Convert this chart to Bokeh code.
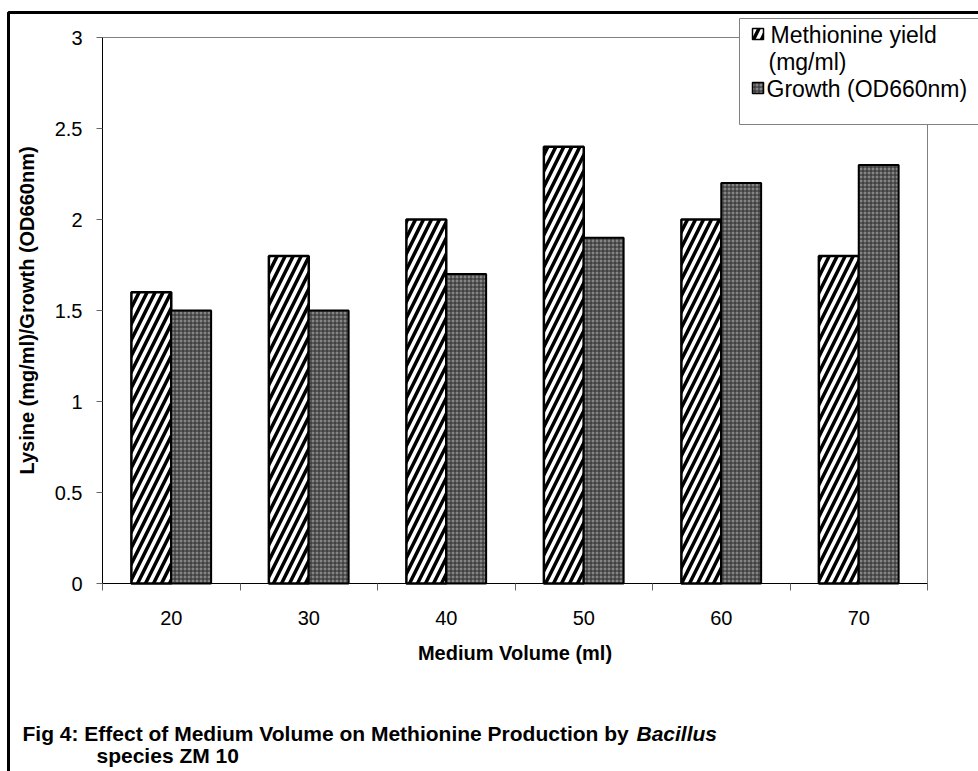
from bokeh.plotting import figure
from bokeh.models import Range1d, FixedTicker, Label, BoxAnnotation, ColumnDataSource
from bokeh.embed import file_html
from bokeh.resources import INLINE

# ---- data ----
volumes = ["20", "30", "40", "50", "60", "70"]
methionine_yield = [1.6, 1.8, 2.0, 2.4, 2.0, 1.8]
growth_od660 = [1.5, 1.5, 1.7, 1.9, 2.2, 2.3]
y_ticks = [0, 0.5, 1, 1.5, 2, 2.5, 3]
y_tick_labels = ["0", "0.5", "1", "1.5", "2", "2.5", "3"]
legend_lines = ["Methionine yield", "(mg/ml)", "Growth (OD660nm)"]
x_title = "Medium Volume (ml)"
y_title = "Lysine (mg/ml)/Growth (OD660nm)"
caption_1 = "Fig 4:  Effect of Medium Volume on Methionine Production by"
caption_italic = "Bacillus"
caption_2 = "species ZM 10"

FONT = "Liberation Sans"
W, H = 978, 771
# pixel box of the data area inside the canvas
PL, PR, PT, PB = 102, 927, 37, 583

n = len(volumes)
y_max = 3
kx = (PR - PL) / n
ky = (PB - PT) / y_max
x_range = Range1d(-PL / kx, n + (W - PR) / kx)
y_range = Range1d(-(H - PB) / ky, y_max + PT / ky)

centers = [i + 0.5 for i in range(n)]
BW = 0.29

p = figure(width=W, height=H, output_backend="svg", toolbar_location=None,
           x_range=x_range, y_range=y_range,
           min_border=0, min_border_left=0, min_border_right=0,
           min_border_top=0, min_border_bottom=0)
p.outline_line_color = None
p.xgrid.visible = False
p.ygrid.visible = False
p.background_fill_color = "white"
p.border_fill_color = "white"

def sx(px):  # page x -> screen units (from frame left)
    return px

def sy(py):  # page y -> screen units (from frame bottom, upward)
    return H - py

def sbox(l, r, t, b, **kw):
    return BoxAnnotation(left=sx(l), right=sx(r), top=sy(t), bottom=sy(b),
                         left_units="screen", right_units="screen",
                         top_units="screen", bottom_units="screen", **kw)

# outer border (only top and left edges are visible)
p.add_layout(sbox(8, W + 100, 12, H + 100, fill_color=None, fill_alpha=0,
                  line_color="black", line_alpha=1.0, line_width=3, level="underlay"))

# plot-area frame (top/right grey lines; left/bottom hidden under axes)
p.add_layout(BoxAnnotation(left=0, right=n, bottom=0, top=y_max,
                           fill_color=None, fill_alpha=0,
                           line_color="#808080", line_alpha=1.0, line_width=1, level="underlay"))

src = ColumnDataSource(dict(
    xm=[c - BW / 2 for c in centers],
    xg=[c + BW / 2 for c in centers],
    m=methionine_yield, g=growth_od660))

p.vbar(x="xm", top="m", width=BW, source=src, fill_color="white",
       line_color="black", line_width=2.5,
       hatch_pattern="/", hatch_color="black", hatch_scale=16, hatch_weight=3.5)
p.vbar(x="xg", top="g", width=BW, source=src, fill_color="#858585",
       line_color="black", line_width=2,
       hatch_pattern="+", hatch_color="#2a2a2a", hatch_scale=4, hatch_weight=1)

# ---- x axis ----
xa = p.xaxis[0]
xa.fixed_location = 0
xa.bounds = (0, n)
xa.ticker = FixedTicker(ticks=centers, minor_ticks=list(range(n + 1)))
xa.major_label_overrides = {c: v for c, v in zip(centers, volumes)}
xa.major_tick_line_color = None
xa.major_tick_out = 0
xa.major_tick_in = 0
xa.minor_tick_out = 7
xa.minor_tick_in = 0
xa.minor_tick_line_color = "#666666"
xa.axis_line_color = "black"
xa.major_label_text_font = FONT
xa.major_label_text_font_size = "20px"
xa.major_label_text_color = "black"
xa.major_label_standoff = 20
xa.axis_label = x_title
xa.axis_label_text_font = FONT
xa.axis_label_text_font_style = "bold"
xa.axis_label_text_font_size = "20px"
xa.axis_label_text_color = "black"
xa.axis_label_standoff = 14

# ---- y axis ----
ya = p.yaxis[0]
ya.fixed_location = 0
ya.bounds = (0, y_max)
ya.ticker = FixedTicker(ticks=y_ticks, minor_ticks=[])
ya.major_label_overrides = {t: s for t, s in zip(y_ticks, y_tick_labels)}
ya.major_tick_out = 6
ya.major_tick_in = 0
ya.major_tick_line_color = "#666666"
ya.minor_tick_line_color = None
ya.axis_line_color = "black"
ya.major_label_text_font = FONT
ya.major_label_text_font_size = "20px"
ya.major_label_text_color = "black"
ya.major_label_standoff = 14
ya.axis_label = y_title
ya.axis_label_text_font = FONT
ya.axis_label_text_font_style = "bold"
ya.axis_label_text_font_size = "20px"
ya.axis_label_text_color = "black"
ya.axis_label_standoff = 14

# ---- legend ----
p.add_layout(sbox(739, W + 20, 18, 124, fill_color="white", fill_alpha=1.0,
                  line_color="#808080", line_alpha=1.0, line_width=1))
p.add_layout(sbox(752, 763, 28, 39, fill_color="white", fill_alpha=1.0,
                  line_color="black", line_alpha=1.0, line_width=1.5,
                  hatch_pattern="/", hatch_color="black", hatch_scale=16, hatch_weight=3.5))
p.add_layout(sbox(752, 763, 82, 93, fill_color="#858585", fill_alpha=1.0,
                  line_color="black", line_alpha=1.0, line_width=1.5,
                  hatch_pattern="+", hatch_color="#2a2a2a", hatch_scale=4, hatch_weight=1))
leg_pos = [(770, 34), (768, 61), (766, 88)]
for txt, (lx, ly) in zip(legend_lines, leg_pos):
    p.add_layout(Label(x=sx(lx), y=sy(ly), x_units="screen", y_units="screen", text=txt,
                       text_font=FONT, text_font_size="23px", text_color="black",
                       text_baseline="middle", text_align="left"))

# ---- caption ----
CAP = "21px"
p.add_layout(Label(x=sx(22), y=sy(733), x_units="screen", y_units="screen", text=caption_1,
                   text_font=FONT, text_font_size=CAP, text_font_style="bold",
                   text_color="black", text_baseline="middle"))
p.add_layout(Label(x=sx(636), y=sy(733), x_units="screen", y_units="screen", text=caption_italic,
                   text_font=FONT, text_font_size=CAP, text_font_style="bold italic",
                   text_color="black", text_baseline="middle"))
p.add_layout(Label(x=sx(96), y=sy(755), x_units="screen", y_units="screen", text=caption_2,
                   text_font=FONT, text_font_size=CAP, text_font_style="bold",
                   text_color="black", text_baseline="middle"))

open("out.html", "w").write(file_html(p, INLINE))
